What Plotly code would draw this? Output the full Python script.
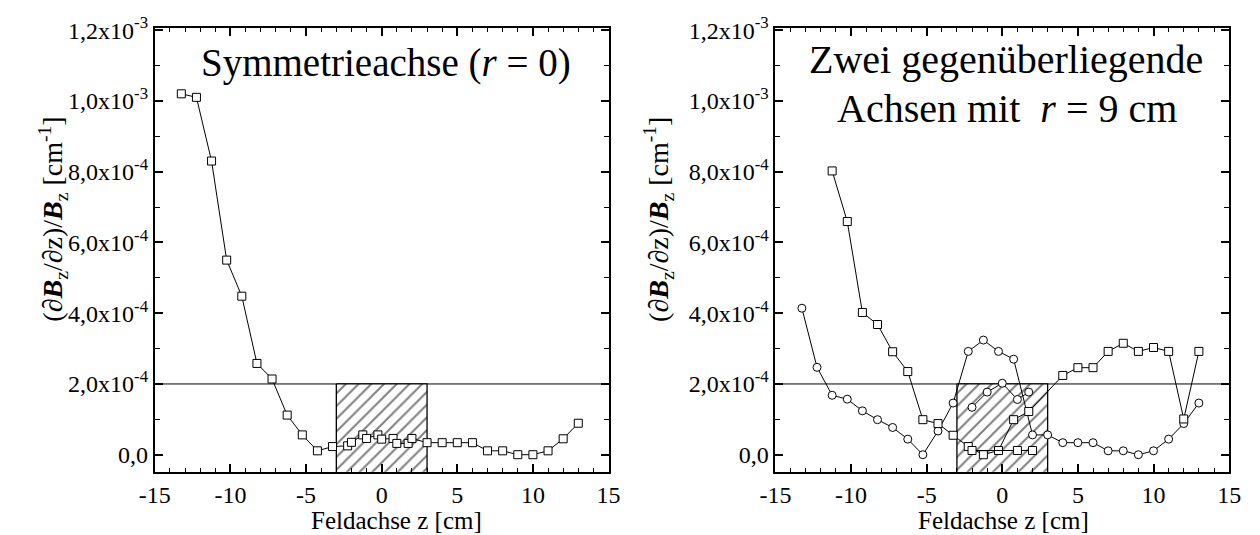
import plotly.graph_objects as go

# ---------------- data ----------------
# left panel: symmetry axis (r = 0)
z_left = [-13.25, -12.25, -11.25, -10.25, -9.25, -8.25, -7.25, -6.25, -5.25, -4.25,
          -3.25, -2.25, -2, -1.25, -1, -0.25, 0, 0.75, 1, 1.75, 2,
          3, 4, 5, 6, 7, 8, 9, 10, 11, 12, 13]
g_left = [1.02e-3, 1.01e-3, 8.3e-4, 5.5e-4, 4.48e-4, 2.58e-4, 2.14e-4, 1.12e-4, 5.6e-5, 1.1e-5,
          2.3e-5, 2.5e-5, 3.5e-5, 5.6e-5, 4.6e-5, 5.6e-5, 4.4e-5, 4.6e-5, 3.2e-5, 3.2e-5, 4.6e-5,
          3.4e-5, 3.4e-5, 3.4e-5, 3.4e-5, 1.1e-5, 1.1e-5, 0.0, 0.0, 1.1e-5, 4.5e-5, 8.9e-5]

# right panel: two opposite axes at r = 9 cm
z_sq_a = [-11.25, -10.25, -9.25, -8.25, -7.25, -6.25, -5.25, -4.25, -3.25, -2.25, -1.25, -0.25,
          0.75, 1.75, 4, 5, 6, 7, 8, 9, 10, 11, 12, 13]
g_sq_a = [8.02e-4, 6.59e-4, 4.02e-4, 3.68e-4, 2.91e-4, 2.35e-4, 0.99e-4, 0.88e-4, 0.55e-4, 0.23e-4, 0.0, 0.12e-4,
          0.99e-4, 1.22e-4, 2.24e-4, 2.46e-4, 2.46e-4, 2.92e-4, 3.15e-4, 2.92e-4, 3.03e-4, 2.92e-4, 1.01e-4, 2.92e-4]
z_sq_b = [-2, 1, 2]
g_sq_b = [1.2e-5, 1.2e-5, 1.2e-5]

z_ci_a = [-13.25, -12.25, -11.25, -10.25, -9.25, -8.25, -7.25, -6.25, -5.25, -4.25, -3.25, -2.25,
          -1.25, -0.25, 0.75, 2, 3, 4, 5, 6, 7, 8, 9, 10, 11, 12, 13]
g_ci_a = [4.14e-4, 2.47e-4, 1.68e-4, 1.57e-4, 1.24e-4, 0.99e-4, 0.77e-4, 0.44e-4, 0.0, 0.67e-4, 1.46e-4, 2.92e-4,
          3.24e-4, 2.92e-4, 2.70e-4, 0.56e-4, 0.56e-4, 0.34e-4, 0.34e-4, 0.34e-4, 0.11e-4, 0.11e-4, 0.0, 0.11e-4,
          0.44e-4, 0.88e-4, 1.46e-4]
z_ci_b = [-2, -1, 0, 1, 1.75]
g_ci_b = [1.34e-4, 1.77e-4, 2.02e-4, 1.56e-4, 1.77e-4]

limit = 2e-4
magnet_z = [-3, 3]

y_tickvals = [0, 2e-4, 4e-4, 6e-4, 8e-4, 1.0e-3, 1.2e-3]
y_ticktext = ["0,0", "2,0x10<sup>-4</sup>", "4,0x10<sup>-4</sup>", "6,0x10<sup>-4</sup>",
              "8,0x10<sup>-4</sup>", "1,0x10<sup>-3</sup>", "1,2x10<sup>-3</sup>"]
x_tickvals = [-15, -10, -5, 0, 5, 10, 15]
x_ticktext = ["-15", "-10", "-5", "0", "5", "10", "15"]

FONT = "Liberation Serif"
W, H = 1260, 535
Y_RANGE = [-0.48e-4, 12.07e-4]
X_RANGE = [-15, 15]

fig = go.Figure()


def add_hatch(xa, ya):
    fig.add_trace(go.Scatter(
        x=[magnet_z[0], magnet_z[1], magnet_z[1], magnet_z[0], magnet_z[0]],
        y=[limit, limit, -1e-4, -1e-4, limit],
        xaxis=xa, yaxis=ya, mode="lines", fill="toself",
        fillcolor="white",
        fillpattern=dict(shape="/", fgcolor="black", bgcolor="white", size=9, solidity=0.22),
        line=dict(color="black", width=1.3), hoverinfo="skip", showlegend=False))


def add_series(x, y, xa, ya, symbol):
    fig.add_trace(go.Scatter(
        x=x, y=y, xaxis=xa, yaxis=ya, mode="lines+markers",
        line=dict(color="black", width=1),
        marker=dict(symbol=symbol, size=8, color="white", line=dict(color="black", width=1)),
        showlegend=False, cliponaxis=False))


add_hatch("x", "y")
add_series(z_left, g_left, "x", "y", "square")

add_hatch("x2", "y2")
add_series(z_ci_a, g_ci_a, "x2", "y2", "circle")
add_series(z_ci_b, g_ci_b, "x2", "y2", "circle")
add_series(z_sq_a, g_sq_a, "x2", "y2", "square")
add_series(z_sq_b, g_sq_b, "x2", "y2", "square")

ydom = [1 - 470 / H, 1 - 14 / H]
xdom1 = [142 / W, 606 / W]
xdom2 = [776.7 / W, 1240.7 / W]

common_x = dict(range=X_RANGE, tickvals=x_tickvals, ticktext=x_ticktext, ticks="inside", ticklen=8,
                tickwidth=1.5, tickcolor="black", showline=True, linecolor="black", linewidth=2,
                mirror="allticks", showgrid=False, zeroline=False, ticklabeloverflow="allow",
                minor=dict(tick0=0, dtick=1, ticks="inside", ticklen=4, tickcolor="black", tickwidth=1.2),
                tickfont=dict(family=FONT, size=24, color="black"))
common_y = dict(range=Y_RANGE, tickvals=y_tickvals, ticktext=y_ticktext, ticks="inside", ticklen=8,
                tickwidth=1.5, tickcolor="black", showline=True, linecolor="black", linewidth=2,
                mirror="allticks", showgrid=False, zeroline=False, ticklabeloverflow="allow",
                minor=dict(dtick=1e-4, tick0=0, ticks="inside", ticklen=5, tickcolor="black", tickwidth=1.2),
                tickfont=dict(family=FONT, size=24, color="black"))

fig.update_layout(
    width=W, height=H, margin=dict(l=0, r=0, t=0, b=0),
    paper_bgcolor="white", plot_bgcolor="white", showlegend=False,
    font=dict(family=FONT, color="black"),
    xaxis=dict(domain=xdom1, anchor="y", **common_x),
    yaxis=dict(domain=ydom, anchor="x", **common_y),
    xaxis2=dict(domain=xdom2, anchor="y2", **common_x),
    yaxis2=dict(domain=ydom, anchor="x2", **common_y),
)

# threshold line in both panels
for xa, ya in (("x", "y"), ("x2", "y2")):
    fig.add_shape(type="line", xref=xa, yref=ya, x0=X_RANGE[0], x1=X_RANGE[1], y0=limit, y1=limit,
                  line=dict(color="black", width=1), layer="below")

ytitle = "(∂<b><i>B</i></b><sub>z</sub>/∂z)/<b><i>B</i></b><sub>z</sub> [cm<sup>-1</sup>]"
annos = [
    dict(text="Symmetrieachse (<i>r</i> = 0)", x=378 / W, y=1 - 50 / H, size=39),
    dict(text="Zwei gegenüberliegende", x=1013 / W, y=1 - 47 / H, size=40),
    dict(text="Achsen mit  <i>r</i> = 9 cm", x=1014 / W, y=1 - 97 / H, size=40),
    dict(text="Feldachse z [cm]", x=389 / W, y=1 - 520 / H, size=25),
    dict(text="Feldachse z [cm]", x=1010 / W, y=1 - 520 / H, size=25),
]
for a in annos:
    fig.add_annotation(text=a["text"], x=a["x"], y=a["y"], xref="paper", yref="paper",
                       showarrow=False, xanchor="center", yanchor="middle",
                       font=dict(family=FONT, size=a["size"], color="black"))
for xc in (38 / W, 657 / W):
    fig.add_annotation(text=ytitle, x=xc, y=1 - 211 / H, xref="paper", yref="paper",
                       showarrow=False, textangle=-90, xanchor="center", yanchor="middle",
                       font=dict(family=FONT, size=28, color="black"))

fig.write_html("out.html")
